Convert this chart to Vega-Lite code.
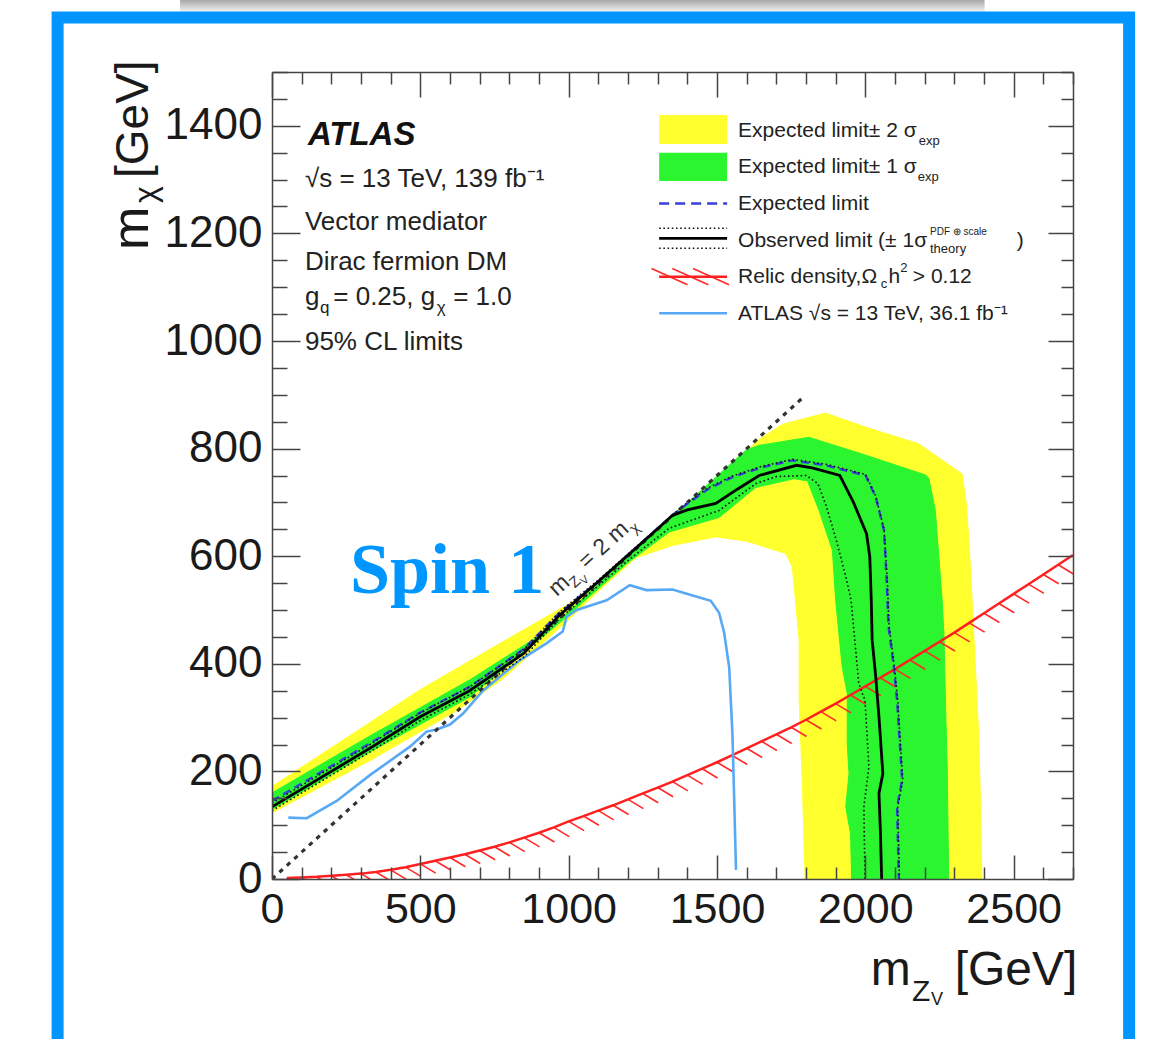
{
  "$schema": "https://vega.github.io/schema/vega-lite/v6.json",
  "width": 801,
  "height": 807,
  "autosize": {"type": "none"},
  "padding": {"left": 272, "top": 72, "right": 81, "bottom": 160},
  "background": "#ffffff",
  "config": {"view": {"stroke": null}, "axis": {"grid": false}},
  "data": {"values": [{}]},
  "datasets": {
    "band2": [
      {"x": 0, "y": 172}, {"x": 250, "y": 262}, {"x": 500, "y": 352}, {"x": 800, "y": 448}, {"x": 1060, "y": 530},
      {"x": 1200, "y": 599}, {"x": 1350, "y": 673}, {"x": 1500, "y": 747}, {"x": 1642, "y": 817}, {"x": 1720, "y": 845},
      {"x": 1866, "y": 866}, {"x": 2000, "y": 840}, {"x": 2180, "y": 809}, {"x": 2326, "y": 753}, {"x": 2340, "y": 700},
      {"x": 2349, "y": 630}, {"x": 2360, "y": 518}, {"x": 2371, "y": 394}, {"x": 2382, "y": 270}, {"x": 2388, "y": 147},
      {"x": 2393, "y": 0}, {"x": 1797, "y": 0}, {"x": 1788, "y": 171}, {"x": 1777, "y": 332}, {"x": 1777, "y": 444},
      {"x": 1754, "y": 580}, {"x": 1732, "y": 605}, {"x": 1600, "y": 628}, {"x": 1496, "y": 636}, {"x": 1350, "y": 620},
      {"x": 1227, "y": 597}, {"x": 1100, "y": 535}, {"x": 1000, "y": 482}, {"x": 900, "y": 432}, {"x": 778, "y": 372},
      {"x": 620, "y": 312}, {"x": 330, "y": 220}, {"x": 0, "y": 123}
    ],
    "band1": [
      {"x": 0, "y": 160}, {"x": 330, "y": 266}, {"x": 666, "y": 370}, {"x": 900, "y": 452}, {"x": 1000, "y": 497},
      {"x": 1100, "y": 549}, {"x": 1300, "y": 649}, {"x": 1450, "y": 724}, {"x": 1597, "y": 797}, {"x": 1642, "y": 806},
      {"x": 1810, "y": 821}, {"x": 2000, "y": 788}, {"x": 2203, "y": 751}, {"x": 2214, "y": 745}, {"x": 2236, "y": 685},
      {"x": 2259, "y": 518}, {"x": 2265, "y": 456}, {"x": 2270, "y": 332}, {"x": 2276, "y": 208}, {"x": 2281, "y": 0},
      {"x": 1954, "y": 0}, {"x": 1950, "y": 85}, {"x": 1934, "y": 134}, {"x": 1945, "y": 196}, {"x": 1939, "y": 252},
      {"x": 1939, "y": 345}, {"x": 1922, "y": 394}, {"x": 1900, "y": 518}, {"x": 1889, "y": 611}, {"x": 1844, "y": 685},
      {"x": 1805, "y": 740}, {"x": 1760, "y": 744}, {"x": 1631, "y": 728}, {"x": 1507, "y": 672}, {"x": 1339, "y": 645},
      {"x": 1200, "y": 588}, {"x": 969, "y": 476}, {"x": 666, "y": 338}, {"x": 330, "y": 236}, {"x": 0, "y": 129}
    ],
    "relic": [
      {"x": 50, "y": 2}, {"x": 100, "y": 3}, {"x": 150, "y": 4}, {"x": 200, "y": 6}, {"x": 250, "y": 8},
      {"x": 300, "y": 10}, {"x": 350, "y": 13}, {"x": 400, "y": 17}, {"x": 450, "y": 22}, {"x": 500, "y": 28},
      {"x": 550, "y": 34}, {"x": 600, "y": 40}, {"x": 650, "y": 46}, {"x": 700, "y": 53}, {"x": 750, "y": 60},
      {"x": 800, "y": 68}, {"x": 850, "y": 77}, {"x": 900, "y": 86}, {"x": 950, "y": 96}, {"x": 1000, "y": 107},
      {"x": 1050, "y": 117}, {"x": 1100, "y": 127}, {"x": 1150, "y": 137}, {"x": 1200, "y": 148}, {"x": 1250, "y": 159},
      {"x": 1300, "y": 170}, {"x": 1350, "y": 181}, {"x": 1400, "y": 193}, {"x": 1450, "y": 205}, {"x": 1500, "y": 217},
      {"x": 1550, "y": 230}, {"x": 1600, "y": 243}, {"x": 1650, "y": 256}, {"x": 1700, "y": 269}, {"x": 1750, "y": 282},
      {"x": 1800, "y": 296}, {"x": 1850, "y": 311}, {"x": 1900, "y": 326}, {"x": 1950, "y": 342}, {"x": 2000, "y": 358},
      {"x": 2050, "y": 374}, {"x": 2100, "y": 390}, {"x": 2150, "y": 407}, {"x": 2200, "y": 424}, {"x": 2250, "y": 441},
      {"x": 2300, "y": 458}, {"x": 2350, "y": 476}, {"x": 2400, "y": 494}, {"x": 2450, "y": 512}, {"x": 2500, "y": 530},
      {"x": 2550, "y": 548}, {"x": 2600, "y": 566}, {"x": 2650, "y": 584}, {"x": 2700, "y": 602}
    ],
    "atlas36": [
      {"x": 55, "y": 114}, {"x": 117, "y": 113}, {"x": 218, "y": 145}, {"x": 330, "y": 193}, {"x": 465, "y": 246},
      {"x": 521, "y": 274}, {"x": 555, "y": 278}, {"x": 600, "y": 287}, {"x": 645, "y": 308}, {"x": 711, "y": 350},
      {"x": 801, "y": 391}, {"x": 836, "y": 407}, {"x": 925, "y": 438}, {"x": 980, "y": 460}, {"x": 993, "y": 487},
      {"x": 1027, "y": 500}, {"x": 1128, "y": 518}, {"x": 1206, "y": 546}, {"x": 1262, "y": 537}, {"x": 1350, "y": 538},
      {"x": 1418, "y": 527}, {"x": 1479, "y": 517}, {"x": 1507, "y": 495}, {"x": 1524, "y": 458}, {"x": 1541, "y": 394},
      {"x": 1552, "y": 270}, {"x": 1558, "y": 147}, {"x": 1564, "y": 17}
    ],
    "threshold": [{"x": 0, "y": 0}, {"x": 1790, "y": 895}],
    "expected": [
      {"x": 0, "y": 145}, {"x": 330, "y": 252}, {"x": 498, "y": 309}, {"x": 666, "y": 357}, {"x": 850, "y": 428},
      {"x": 969, "y": 495}, {"x": 1100, "y": 553}, {"x": 1200, "y": 602}, {"x": 1300, "y": 652}, {"x": 1384, "y": 691},
      {"x": 1470, "y": 725}, {"x": 1552, "y": 747}, {"x": 1650, "y": 765}, {"x": 1754, "y": 778}, {"x": 1866, "y": 769},
      {"x": 2001, "y": 750}, {"x": 2035, "y": 710}, {"x": 2063, "y": 648}, {"x": 2072, "y": 555}, {"x": 2078, "y": 470},
      {"x": 2090, "y": 420}, {"x": 2096, "y": 394}, {"x": 2107, "y": 332}, {"x": 2124, "y": 184}, {"x": 2107, "y": 134},
      {"x": 2113, "y": 0}
    ],
    "theoryUp": [
      {"x": 0, "y": 141}, {"x": 330, "y": 250}, {"x": 498, "y": 308}, {"x": 666, "y": 357}, {"x": 850, "y": 427},
      {"x": 969, "y": 496}, {"x": 1100, "y": 556}, {"x": 1200, "y": 604}, {"x": 1300, "y": 652}, {"x": 1384, "y": 693},
      {"x": 1470, "y": 727}, {"x": 1552, "y": 749}, {"x": 1650, "y": 767}, {"x": 1754, "y": 780}, {"x": 1866, "y": 771},
      {"x": 2001, "y": 752}, {"x": 2035, "y": 712}, {"x": 2063, "y": 650}, {"x": 2074, "y": 555}, {"x": 2080, "y": 470},
      {"x": 2092, "y": 420}, {"x": 2098, "y": 394}, {"x": 2109, "y": 332}, {"x": 2126, "y": 184}, {"x": 2109, "y": 134},
      {"x": 2115, "y": 0}
    ],
    "theoryDown": [
      {"x": 0, "y": 127}, {"x": 330, "y": 236}, {"x": 498, "y": 294}, {"x": 666, "y": 343}, {"x": 850, "y": 413},
      {"x": 969, "y": 484}, {"x": 1100, "y": 545}, {"x": 1200, "y": 592}, {"x": 1339, "y": 652}, {"x": 1507, "y": 685},
      {"x": 1631, "y": 735}, {"x": 1700, "y": 748}, {"x": 1801, "y": 750}, {"x": 1840, "y": 735}, {"x": 1869, "y": 692},
      {"x": 1902, "y": 630}, {"x": 1935, "y": 560}, {"x": 1952, "y": 518}, {"x": 1978, "y": 363}, {"x": 1999, "y": 332},
      {"x": 2012, "y": 208}, {"x": 1995, "y": 134}, {"x": 1999, "y": 0}
    ],
    "observed": [
      {"x": 0, "y": 134}, {"x": 330, "y": 243}, {"x": 498, "y": 301}, {"x": 666, "y": 350}, {"x": 850, "y": 420},
      {"x": 969, "y": 490}, {"x": 1100, "y": 553}, {"x": 1200, "y": 602}, {"x": 1300, "y": 651}, {"x": 1350, "y": 676},
      {"x": 1400, "y": 686}, {"x": 1496, "y": 698}, {"x": 1570, "y": 725}, {"x": 1642, "y": 750}, {"x": 1768, "y": 769},
      {"x": 1821, "y": 764}, {"x": 1914, "y": 750}, {"x": 1960, "y": 700}, {"x": 2004, "y": 642}, {"x": 2015, "y": 599},
      {"x": 2020, "y": 518}, {"x": 2023, "y": 444}, {"x": 2035, "y": 376}, {"x": 2046, "y": 301}, {"x": 2059, "y": 196},
      {"x": 2046, "y": 159}, {"x": 2051, "y": 85}, {"x": 2055, "y": 0}
    ],
    "legendMain": [
      {"x": 1571, "y": 1378.6, "t": "Expected limit± 2 σ"},
      {"x": 1571, "y": 1311.7, "t": "Expected limit± 1 σ"},
      {"x": 1571, "y": 1243.5, "t": "Expected limit"},
      {"x": 1571, "y": 1175.3, "t": "Observed limit (± 1σ"},
      {"x": 2510, "y": 1175.3, "t": ")"},
      {"x": 1571, "y": 1107.2, "t": "Relic density,Ω"},
      {"x": 2078, "y": 1107.2, "t": "h"},
      {"x": 2160, "y": 1107.2, "t": "> 0.12"},
      {"x": 1571, "y": 1039, "t": "ATLAS √s = 13 TeV, 36.1 fb⁻¹"}
    ],
    "legendSmall": [
      {"x": 2180, "y": 1365, "t": "exp"},
      {"x": 2177, "y": 1297.4, "t": "exp"},
      {"x": 2052, "y": 1098.5, "t": "c"},
      {"x": 2118, "y": 1128, "t": "2"},
      {"x": 2218, "y": 1163.6, "t": "theory"}
    ],
    "legendTiny": [
      {"x": 2218, "y": 1197, "t": "PDF ⊕ scale"}
    ],
    "legendHatch": [
      {"x": 1340, "y": 1119.5}, {"x": 1410, "y": 1119.5}, {"x": 1480, "y": 1119.5}
    ],
    "info": [
      {"x": 111, "y": 1285.7, "t": "√s = 13 TeV, 139 fb⁻¹"},
      {"x": 111, "y": 1206, "t": "Vector mediator"},
      {"x": 111, "y": 1132, "t": "Dirac fermion DM"},
      {"x": 111, "y": 1067, "t": "g"},
      {"x": 206.5, "y": 1067, "t": "= 0.25, g"},
      {"x": 610.8, "y": 1067, "t": "= 1.0"},
      {"x": 111, "y": 983, "t": "95% CL limits"}
    ],
    "infoSub": [
      {"x": 161.7, "y": 1051.5, "t": "q"},
      {"x": 555, "y": 1051.5, "t": "χ"}
    ],
    "diagBig": [
      {"x": 960.2, "y": 524.2, "t": "m"},
      {"x": 1061.3, "y": 574.7, "t": "= 2 m"}
    ],
    "diagSub": [
      {"x": 1020.9, "y": 540.1, "t": "Z"},
      {"x": 1223.4, "y": 640.9, "t": "χ"}
    ],
    "diagSub2": [
      {"x": 1052.9, "y": 546.1, "t": "V"}
    ]
  },
  "resolve": {"axis": {"x": "independent", "y": "independent"}},
  "layer": [
    {
      "mark": {"type": "rect", "fill": {"x1": 0, "y1": 0, "x2": 0, "y2": 1, "gradient": "linear", "stops": [{"offset": 0, "color": "#a8a8a8"}, {"offset": 1, "color": "#ffffff"}]}, "clip": false},
      "encoding": {
        "x": {"datum": -310, "type": "quantitative", "axis": null, "scale": {"domain": [0, 2700], "nice": false, "zero": false}},
        "x2": {"datum": 2402},
        "y": {"datum": 1633.8, "type": "quantitative", "axis": null, "scale": {"domain": [0, 1500], "nice": false, "zero": false}},
        "y2": {"datum": 1608}
      }
    },
    {
      "mark": {"type": "rect", "filled": false, "color": "#0095ff", "strokeWidth": 12, "clip": false},
      "encoding": {
        "x": {"datum": -722.7, "type": "quantitative", "axis": null, "scale": {"domain": [0, 2700], "nice": false, "zero": false}},
        "x2": {"datum": 2889.2},
        "y": {"datum": 1601.3, "type": "quantitative", "axis": null, "scale": {"domain": [0, 1500], "nice": false, "zero": false}},
        "y2": {"datum": -308.6}
      }
    },
    {
      "data": {"name": "band2"},
      "mark": {"type": "line", "color": "#ffff2e", "fill": "#ffff2e", "strokeWidth": 1, "interpolate": "linear", "clip": true},
      "encoding": {
        "x": {"field": "x", "type": "quantitative", "scale": {"domain": [0, 2700], "nice": false, "zero": false},
          "axis": {"orient": "bottom", "title": null, "format": "d", "zindex": 1,
            "values": [0, 100, 200, 300, 400, 500, 600, 700, 800, 900, 1000, 1100, 1200, 1300, 1400, 1500, 1600, 1700, 1800, 1900, 2000, 2100, 2200, 2300, 2400, 2500, 2600, 2700],
            "labelExpr": "datum.value % 500 === 0 ? datum.label : ''",
            "tickSize": {"condition": {"test": "datum.value % 500 === 0", "value": -24}, "value": -12},
            "tickColor": "#444", "tickWidth": 1.5, "domain": true, "domainColor": "#444", "domainWidth": 1.5,
            "labelFont": "Liberation Sans", "labelFontSize": 43, "labelColor": "#1a1a1a", "labelPadding": 33,
            "labelFlush": false, "labelOverlap": false, "labelBound": false}},
        "y": {"field": "y", "type": "quantitative", "scale": {"domain": [0, 1500], "nice": false, "zero": false},
          "axis": {"orient": "left", "title": null, "format": "d", "zindex": 1,
            "values": [0, 50, 100, 150, 200, 250, 300, 350, 400, 450, 500, 550, 600, 650, 700, 750, 800, 850, 900, 950, 1000, 1050, 1100, 1150, 1200, 1250, 1300, 1350, 1400, 1450, 1500],
            "labelExpr": "datum.value % 200 === 0 ? datum.label : ''",
            "tickSize": {"condition": {"test": "datum.value % 200 === 0", "value": -28}, "value": -15},
            "tickColor": "#444", "tickWidth": 1.5, "domain": true, "domainColor": "#444", "domainWidth": 1.5,
            "labelFont": "Liberation Sans", "labelFontSize": 44, "labelColor": "#1a1a1a", "labelPadding": 38,
            "labelFlush": false, "labelOverlap": false, "labelBound": false}},
        "order": {"value": null}
      }
    },
    {
      "data": {"name": "band1"},
      "mark": {"type": "line", "color": "#2af52f", "fill": "#2af52f", "strokeWidth": 1, "interpolate": "linear", "clip": true},
      "encoding": {
        "x": {"field": "x", "type": "quantitative",
          "axis": {"orient": "top", "title": null, "labels": false, "zindex": 1,
            "values": [0, 100, 200, 300, 400, 500, 600, 700, 800, 900, 1000, 1100, 1200, 1300, 1400, 1500, 1600, 1700, 1800, 1900, 2000, 2100, 2200, 2300, 2400, 2500, 2600, 2700],
            "tickSize": {"condition": {"test": "datum.value % 500 === 0", "value": -25}, "value": -12},
            "tickColor": "#444", "tickWidth": 1.5, "domain": true, "domainColor": "#444", "domainWidth": 1.5}},
        "y": {"field": "y", "type": "quantitative",
          "axis": {"orient": "right", "title": null, "labels": false, "zindex": 1,
            "values": [0, 50, 100, 150, 200, 250, 300, 350, 400, 450, 500, 550, 600, 650, 700, 750, 800, 850, 900, 950, 1000, 1050, 1100, 1150, 1200, 1250, 1300, 1350, 1400, 1450, 1500],
            "tickSize": {"condition": {"test": "datum.value % 200 === 0", "value": -25}, "value": -12},
            "tickColor": "#444", "tickWidth": 1.5, "domain": true, "domainColor": "#444", "domainWidth": 1.5}},
        "order": {"value": null}
      }
    },
    {
      "data": {"name": "relic"},
      "mark": {"type": "point", "shape": "M0,0L1,0.6", "size": 950, "filled": false, "color": "#ff2a2a", "strokeWidth": 1.6, "opacity": 1, "clip": true},
      "encoding": {
        "x": {"field": "x", "type": "quantitative", "axis": null},
        "y": {"field": "y", "type": "quantitative", "axis": null}
      }
    },
    {
      "data": {"name": "relic"},
      "mark": {"type": "line", "color": "#ff1f1f", "strokeWidth": 2.5, "clip": true},
      "encoding": {
        "x": {"field": "x", "type": "quantitative", "axis": null},
        "y": {"field": "y", "type": "quantitative", "axis": null},
        "order": {"value": null}
      }
    },
    {
      "data": {"name": "atlas36"},
      "mark": {"type": "line", "color": "#57a9f5", "strokeWidth": 2.6, "clip": true},
      "encoding": {
        "x": {"field": "x", "type": "quantitative", "axis": null},
        "y": {"field": "y", "type": "quantitative", "axis": null},
        "order": {"value": null}
      }
    },
    {
      "data": {"name": "threshold"},
      "mark": {"type": "line", "color": "#333333", "strokeWidth": 3.2, "strokeDash": [4.5, 5.5], "clip": true},
      "encoding": {
        "x": {"field": "x", "type": "quantitative", "axis": null},
        "y": {"field": "y", "type": "quantitative", "axis": null},
        "order": {"value": null}
      }
    },
    {
      "data": {"name": "expected"},
      "mark": {"type": "line", "color": "#3440d8", "strokeWidth": 2.4, "strokeDash": [8, 5], "clip": true},
      "encoding": {
        "x": {"field": "x", "type": "quantitative", "axis": null},
        "y": {"field": "y", "type": "quantitative", "axis": null},
        "order": {"value": null}
      }
    },
    {
      "data": {"name": "theoryUp"},
      "mark": {"type": "line", "color": "#111111", "strokeWidth": 1.6, "strokeDash": [1.6, 2.6], "clip": true},
      "encoding": {
        "x": {"field": "x", "type": "quantitative", "axis": null},
        "y": {"field": "y", "type": "quantitative", "axis": null},
        "order": {"value": null}
      }
    },
    {
      "data": {"name": "theoryDown"},
      "mark": {"type": "line", "color": "#111111", "strokeWidth": 1.6, "strokeDash": [1.6, 2.6], "clip": true},
      "encoding": {
        "x": {"field": "x", "type": "quantitative", "axis": null},
        "y": {"field": "y", "type": "quantitative", "axis": null},
        "order": {"value": null}
      }
    },
    {
      "data": {"name": "observed"},
      "mark": {"type": "line", "color": "#000000", "strokeWidth": 2.8, "clip": true},
      "encoding": {
        "x": {"field": "x", "type": "quantitative", "axis": null},
        "y": {"field": "y", "type": "quantitative", "axis": null},
        "order": {"value": null}
      }
    },
    {
      "mark": {"type": "text", "text": "Spin 1", "font": "Liberation Serif", "fontWeight": "bold", "fontSize": 72, "color": "#0096ff", "align": "left", "baseline": "alphabetic"},
      "encoding": {
        "x": {"datum": 263, "type": "quantitative", "axis": null},
        "y": {"datum": 531.6, "type": "quantitative", "axis": null}
      }
    },
    {
      "data": {"name": "diagBig"},
      "mark": {"type": "text", "font": "Liberation Sans", "fontSize": 23, "color": "#333333", "angle": 317.8, "align": "left", "baseline": "alphabetic"},
      "encoding": {
        "x": {"field": "x", "type": "quantitative", "axis": null},
        "y": {"field": "y", "type": "quantitative", "axis": null},
        "text": {"field": "t"}
      }
    },
    {
      "data": {"name": "diagSub"},
      "mark": {"type": "text", "font": "Liberation Sans", "fontSize": 15, "color": "#333333", "angle": 317.8, "align": "left", "baseline": "alphabetic"},
      "encoding": {
        "x": {"field": "x", "type": "quantitative", "axis": null},
        "y": {"field": "y", "type": "quantitative", "axis": null},
        "text": {"field": "t"}
      }
    },
    {
      "data": {"name": "diagSub2"},
      "mark": {"type": "text", "font": "Liberation Sans", "fontSize": 11, "color": "#333333", "angle": 317.8, "align": "left", "baseline": "alphabetic"},
      "encoding": {
        "x": {"field": "x", "type": "quantitative", "axis": null},
        "y": {"field": "y", "type": "quantitative", "axis": null},
        "text": {"field": "t"}
      }
    },
    {
      "mark": {"type": "rect", "color": "#ffff2e"},
      "encoding": {
        "x": {"datum": 1305, "type": "quantitative", "axis": null}, "x2": {"datum": 1534},
        "y": {"datum": 1420.1, "type": "quantitative", "axis": null}, "y2": {"datum": 1366.2}
      }
    },
    {
      "mark": {"type": "rect", "color": "#2af52f"},
      "encoding": {
        "x": {"datum": 1305, "type": "quantitative", "axis": null}, "x2": {"datum": 1534},
        "y": {"datum": 1350, "type": "quantitative", "axis": null}, "y2": {"datum": 1297.4}
      }
    },
    {
      "mark": {"type": "rule", "color": "#3440d8", "strokeWidth": 2.4, "strokeDash": [10, 6]},
      "encoding": {
        "x": {"datum": 1305, "type": "quantitative", "axis": null}, "x2": {"datum": 1534},
        "y": {"datum": 1255.6, "type": "quantitative", "axis": null}
      }
    },
    {
      "mark": {"type": "rule", "color": "#111111", "strokeWidth": 1.6, "strokeDash": [1.6, 2.6]},
      "encoding": {
        "x": {"datum": 1305, "type": "quantitative", "axis": null}, "x2": {"datum": 1534},
        "y": {"datum": 1209.5, "type": "quantitative", "axis": null}
      }
    },
    {
      "mark": {"type": "rule", "color": "#000000", "strokeWidth": 2.8},
      "encoding": {
        "x": {"datum": 1305, "type": "quantitative", "axis": null}, "x2": {"datum": 1534},
        "y": {"datum": 1190.9, "type": "quantitative", "axis": null}
      }
    },
    {
      "mark": {"type": "rule", "color": "#111111", "strokeWidth": 1.6, "strokeDash": [1.6, 2.6]},
      "encoding": {
        "x": {"datum": 1305, "type": "quantitative", "axis": null}, "x2": {"datum": 1534},
        "y": {"datum": 1172.3, "type": "quantitative", "axis": null}
      }
    },
    {
      "data": {"name": "legendHatch"},
      "mark": {"type": "point", "shape": "M-1,-0.45L1,0.45", "size": 1300, "filled": false, "color": "#ff2a2a", "strokeWidth": 1.6, "opacity": 1},
      "encoding": {
        "x": {"field": "x", "type": "quantitative", "axis": null},
        "y": {"field": "y", "type": "quantitative", "axis": null}
      }
    },
    {
      "mark": {"type": "rule", "color": "#ff1f1f", "strokeWidth": 2.5},
      "encoding": {
        "x": {"datum": 1305, "type": "quantitative", "axis": null}, "x2": {"datum": 1534},
        "y": {"datum": 1119.5, "type": "quantitative", "axis": null}
      }
    },
    {
      "mark": {"type": "rule", "color": "#57a9f5", "strokeWidth": 2.6},
      "encoding": {
        "x": {"datum": 1305, "type": "quantitative", "axis": null}, "x2": {"datum": 1534},
        "y": {"datum": 1051.5, "type": "quantitative", "axis": null}
      }
    },
    {
      "data": {"name": "legendMain"},
      "mark": {"type": "text", "font": "Liberation Sans", "fontSize": 21, "color": "#222222", "align": "left", "baseline": "alphabetic"},
      "encoding": {
        "x": {"field": "x", "type": "quantitative", "axis": null},
        "y": {"field": "y", "type": "quantitative", "axis": null},
        "text": {"field": "t"}
      }
    },
    {
      "data": {"name": "legendSmall"},
      "mark": {"type": "text", "font": "Liberation Sans", "fontSize": 13, "color": "#222222", "align": "left", "baseline": "alphabetic"},
      "encoding": {
        "x": {"field": "x", "type": "quantitative", "axis": null},
        "y": {"field": "y", "type": "quantitative", "axis": null},
        "text": {"field": "t"}
      }
    },
    {
      "data": {"name": "legendTiny"},
      "mark": {"type": "text", "font": "Liberation Sans", "fontSize": 10, "color": "#222222", "align": "left", "baseline": "alphabetic"},
      "encoding": {
        "x": {"field": "x", "type": "quantitative", "axis": null},
        "y": {"field": "y", "type": "quantitative", "axis": null},
        "text": {"field": "t"}
      }
    },
    {
      "mark": {"type": "text", "text": "ATLAS", "font": "Liberation Sans", "fontSize": 33, "fontWeight": "bold", "fontStyle": "italic", "color": "#111111", "align": "left", "baseline": "alphabetic"},
      "encoding": {
        "x": {"datum": 121, "type": "quantitative", "axis": null},
        "y": {"datum": 1364, "type": "quantitative", "axis": null}
      }
    },
    {
      "data": {"name": "info"},
      "mark": {"type": "text", "font": "Liberation Sans", "fontSize": 26, "color": "#222222", "align": "left", "baseline": "alphabetic"},
      "encoding": {
        "x": {"field": "x", "type": "quantitative", "axis": null},
        "y": {"field": "y", "type": "quantitative", "axis": null},
        "text": {"field": "t"}
      }
    },
    {
      "data": {"name": "infoSub"},
      "mark": {"type": "text", "font": "Liberation Sans", "fontSize": 17, "color": "#222222", "align": "left", "baseline": "alphabetic"},
      "encoding": {
        "x": {"field": "x", "type": "quantitative", "axis": null},
        "y": {"field": "y", "type": "quantitative", "axis": null},
        "text": {"field": "t"}
      }
    },
    {
      "mark": {"type": "text", "text": "m", "font": "Liberation Sans", "fontSize": 48, "color": "#1a1a1a", "align": "left", "baseline": "alphabetic"},
      "encoding": {
        "x": {"datum": 2018.2, "type": "quantitative", "axis": null, "scale": {"domain": [0, 2700], "nice": false, "zero": false}},
        "y": {"datum": -197, "type": "quantitative", "axis": null, "scale": {"domain": [0, 1500], "nice": false, "zero": false}}
      }
    },
    {
      "mark": {"type": "text", "text": "Z", "font": "Liberation Sans", "fontSize": 30, "color": "#1a1a1a", "align": "left", "baseline": "alphabetic"},
      "encoding": {
        "x": {"datum": 2157.3, "type": "quantitative", "axis": null},
        "y": {"datum": -226.8, "type": "quantitative", "axis": null}
      }
    },
    {
      "mark": {"type": "text", "text": "V", "font": "Liberation Sans", "fontSize": 18, "color": "#1a1a1a", "align": "left", "baseline": "alphabetic"},
      "encoding": {
        "x": {"datum": 2221.3, "type": "quantitative", "axis": null},
        "y": {"datum": -234.2, "type": "quantitative", "axis": null}
      }
    },
    {
      "mark": {"type": "text", "text": "[GeV]", "font": "Liberation Sans", "fontSize": 48, "color": "#1a1a1a", "align": "left", "baseline": "alphabetic"},
      "encoding": {
        "x": {"datum": 2301.2, "type": "quantitative", "axis": null},
        "y": {"datum": -197, "type": "quantitative", "axis": null}
      }
    },
    {
      "mark": {"type": "text", "text": "m", "font": "Liberation Sans", "fontSize": 52, "color": "#1a1a1a", "angle": 270, "align": "left", "baseline": "alphabetic"},
      "encoding": {
        "x": {"datum": -417.8, "type": "quantitative", "axis": null},
        "y": {"datum": 1169.1, "type": "quantitative", "axis": null}
      }
    },
    {
      "mark": {"type": "text", "text": "χ", "font": "Liberation Sans", "fontSize": 32, "color": "#1a1a1a", "angle": 270, "align": "left", "baseline": "alphabetic"},
      "encoding": {
        "x": {"datum": -390.8, "type": "quantitative", "axis": null},
        "y": {"datum": 1256.5, "type": "quantitative", "axis": null}
      }
    },
    {
      "mark": {"type": "text", "text": "[GeV]", "font": "Liberation Sans", "fontSize": 46, "color": "#1a1a1a", "angle": 270, "align": "left", "baseline": "alphabetic"},
      "encoding": {
        "x": {"datum": -417.8, "type": "quantitative", "axis": null},
        "y": {"datum": 1303, "type": "quantitative", "axis": null}
      }
    }
  ]
}
